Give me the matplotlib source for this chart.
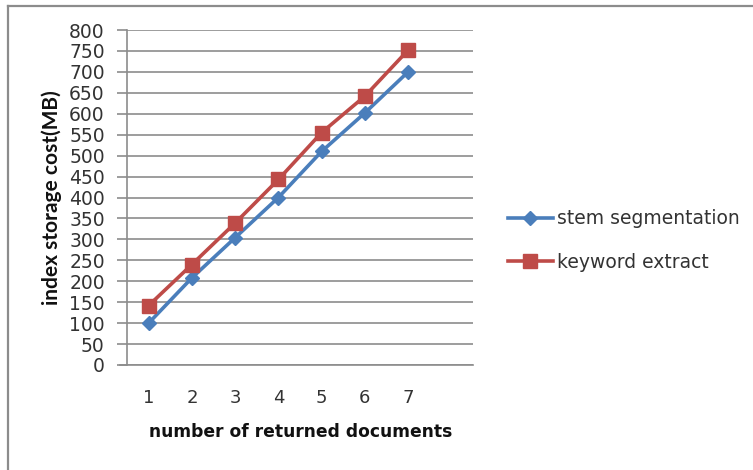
import matplotlib
matplotlib.use("Agg")
import matplotlib.pyplot as plt
from matplotlib.lines import Line2D

# number of returned documents
docs = [1, 2, 3, 4, 5, 6, 7]
# index storage cost (MB)
stem_segmentation = [100, 208, 304, 400, 510, 602, 700]
keyword_extract = [142, 240, 339, 443, 555, 642, 752]
y_ticks = list(range(0, 801, 50))

plt.rcParams["font.family"] = ["DejaVu Sans"]

W, H = 753, 470
fig = plt.figure(figsize=(W / 100, H / 100), dpi=100)
fig.patch.set_facecolor("white")

# outer frame (top and left edges)
fig.add_artist(Line2D([7.5 / W, 752 / W], [1 - 5.5 / H, 1 - 5.5 / H],
                      transform=fig.transFigure, color="#8c8c8c", lw=1.6))
fig.add_artist(Line2D([7.5 / W, 7.5 / W], [0, 1 - 5.5 / H],
                      transform=fig.transFigure, color="#8c8c8c", lw=1.6))

ax = fig.add_axes([127 / W, (H - 365) / H, (473 - 127) / W, (365 - 30) / H])

blue = "#4a7ebb"
red = "#be4b48"
ax.plot(docs, stem_segmentation, color=blue, lw=2.6, marker="D", ms=7.5,
        label="stem segmentation", zorder=3)
ax.plot(docs, keyword_extract, color=red, lw=2.6, marker="s", ms=9.5,
        label="keyword extract", zorder=3)

ax.set_xlim(0.5, 8.5)
ax.set_ylim(0, 800)
ax.set_yticks(y_ticks)
ax.set_xticks(docs)
ax.yaxis.grid(True, color="#8c8c8c", lw=1.2)
ax.set_axisbelow(True)
for s in ["top", "right", "bottom"]:
    ax.spines[s].set_visible(False)
ax.spines["left"].set_color("#8c8c8c")
ax.spines["left"].set_linewidth(1.2)
ax.tick_params(axis="y", length=7, width=1.2, color="#8c8c8c", labelsize=13.5,
               pad=9, labelcolor="#333333")
ax.tick_params(axis="x", length=0, labelsize=13, pad=17, labelcolor="#333333")
ax.axhline(0, color="#8c8c8c", lw=1.2, xmin=-0.02, clip_on=False)

ax.set_ylabel("index storage cost(MB)", fontsize=15, fontweight="bold",
              family="Lato", color="#111111")
ax.yaxis.set_label_coords(-(127 - 52) / (473 - 127), (365 - 198) / (365 - 30))
ax.set_xlabel("number of returned documents", fontsize=12.3, fontweight="bold",
              color="#111111")
ax.xaxis.set_label_coords((301 - 127) / (473 - 127), -(432 - 365) / (365 - 30))
ax.xaxis.label.set_va("center")
ax.yaxis.label.set_va("center")

ax.legend(loc="center left", bbox_to_anchor=(491 / W, (H - 240.5) / H),
          bbox_transform=fig.transFigure, frameon=False, fontsize=13.5,
          handlelength=2.4, handletextpad=0.2, labelspacing=1.3,
          labelcolor="#333333")

fig.savefig("out.png", dpi=100)
